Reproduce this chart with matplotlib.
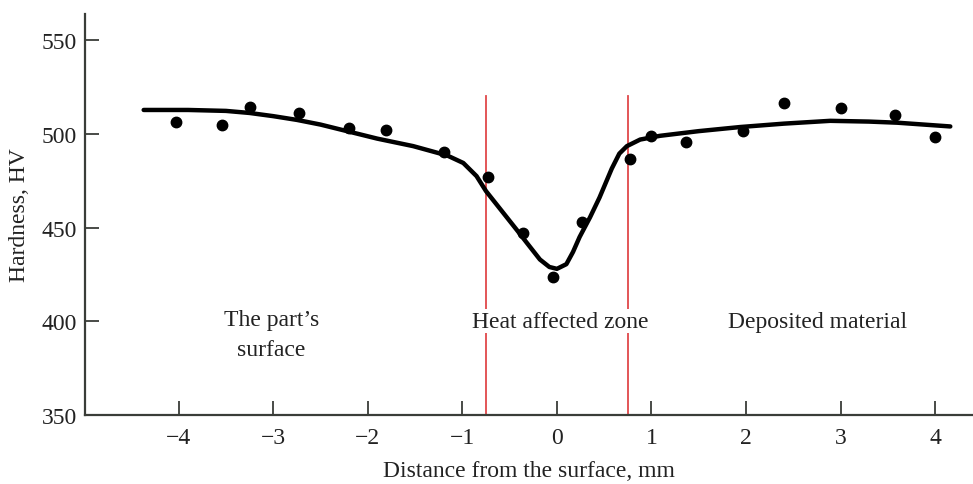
import matplotlib
matplotlib.use("Agg")
import matplotlib.pyplot as plt

plt.rcParams['font.family'] = ['Liberation Serif', 'DejaVu Serif']

# measured hardness points
pts_x = [-4.03, -3.54, -3.25, -2.73, -2.20, -1.81, -1.19, -0.73, -0.36, -0.04,
         0.26, 0.77, 0.99, 1.37, 1.97, 2.40, 3.00, 3.58, 4.00]
pts_y = [506.5, 504.7, 514.2, 511.2, 503.0, 502.0, 490.2, 476.8, 447.0, 423.8,
         452.8, 486.6, 499.0, 495.5, 501.4, 516.5, 513.8, 510.0, 498.2]

# fitted curve
curve_x = [-4.37, -3.90, -3.50, -3.25, -3.00, -2.75, -2.50, -2.22, -1.90, -1.52,
           -1.16, -0.99, -0.85, -0.75, -0.64, -0.53, -0.42, -0.32, -0.18, -0.08,
           0.00, 0.10, 0.17, 0.24, 0.35, 0.45, 0.58, 0.66, 0.74, 0.88,
           1.09, 1.50, 1.94, 2.40, 2.89, 3.30, 3.60, 4.16]
curve_y = [512.8, 512.8, 512.3, 511.2, 509.5, 507.5, 505.0, 501.5, 497.5, 493.5,
           488.5, 484.5, 477.5, 469.5, 462.5, 455.5, 448.5, 442.0, 433.0, 429.0,
           428.0, 430.5, 437.0, 445.0, 455.5, 466.0, 481.5, 489.5, 493.5, 497.0,
           499.0, 501.5, 503.7, 505.5, 507.0, 506.6, 506.0, 504.0]

zone_edges = [-0.75, 0.75]
xticks = [-4, -3, -2, -1, 0, 1, 2, 3, 4]
yticks = [350, 400, 450, 500, 550]

fig = plt.figure(figsize=(9.73, 4.85), dpi=100)
ax = fig.add_axes([0.0874, 0.1423, 0.9126, 0.8267])

for xe in zone_edges:
    ax.plot([xe, xe], [350, 520], color='#e0484a', lw=1.3, zorder=1)

ax.plot(curve_x, curve_y, color='black', lw=3.2, solid_capstyle='round',
        solid_joinstyle='round', zorder=3)
ax.plot(pts_x, pts_y, 'o', color='black', ms=7.5, zorder=4)

ax.text(-3.02, 406.5, "The part\u2019s\nsurface", ha='center', va='top', fontsize=17,
        linespacing=1.55, color='#222222')
ax.text(0.03, 400, "Heat affected zone", ha='center', va='center', fontsize=17,
        color='#222222', zorder=2,
        bbox=dict(facecolor='white', edgecolor='none', pad=1))
ax.text(2.76, 400, "Deposited material", ha='center', va='center', fontsize=17,
        color='#222222')

ax.set_xlim(-4.99, 4.40)
ax.set_ylim(350, 564)
ax.set_xticks(xticks)
ax.set_xticklabels(['\u2212' + str(-t) if t < 0 else str(t) for t in xticks])
ax.set_yticks(yticks)

for s in ['top', 'right']:
    ax.spines[s].set_visible(False)
for s in ['left', 'bottom']:
    ax.spines[s].set_color('#3a3d38')
    ax.spines[s].set_linewidth(1.6)

ax.tick_params(direction='in', length=10, width=1.3, color='#3a3d38',
               labelsize=17, labelcolor='#222222')
ax.tick_params(axis='x', pad=9)
ax.tick_params(axis='y', pad=6)

ax.set_xlabel("Distance from the surface, mm", fontsize=17, color='#222222', labelpad=8)
ax.set_ylabel("Hardness, HV", fontsize=17, color='#222222', labelpad=8)

fig.savefig("out.png", dpi=100)
